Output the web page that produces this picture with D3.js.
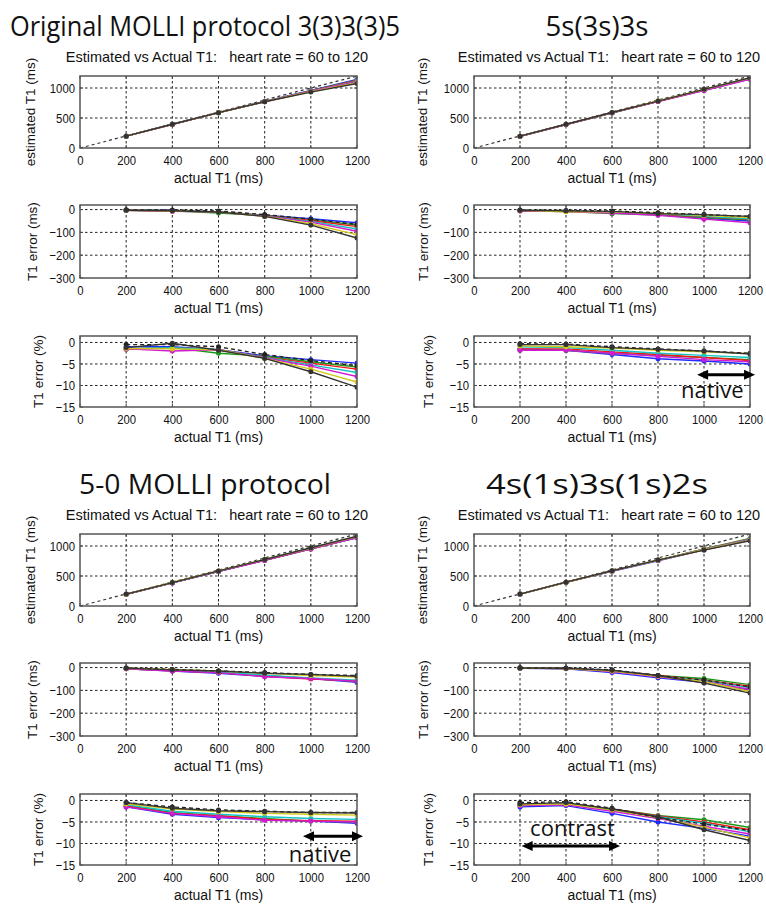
<!DOCTYPE html>
<html>
<head>
<meta charset="utf-8">
<script src="https://cdn.jsdelivr.net/npm/d3@7"></script>
<style>
  html, body { margin: 0; padding: 0; background: #fff; }
  svg { display: block; }
</style>
</head>
<body>
<div id="chart"></div>
<script>
// ---------------- DATA ----------------
const actualT1 = [200, 400, 600, 800, 1000, 1200];
const xTicks = [0, 200, 400, 600, 800, 1000, 1200];
const estTicks = [0, 500, 1000];
const errMsTicks = [-300, -200, -100, 0];
const errPctTicks = [-15, -10, -5, 0];
const panelTitles = ["Original MOLLI protocol 3(3)3(3)5", "5s(3s)3s", "5-0 MOLLI protocol", "4s(1s)3s(1s)2s"];
const subTitle = "Estimated vs Actual T1:   heart rate = 60 to 120";
const heartRates = [60, 70, 80, 90, 100, 110, 120];
// series order: blue, green, red, cyan, magenta, yellow, black
const seriesColors = ["#1f2bff", "#1a9a1a", "#f01818", "#12c4c4", "#d21ad2", "#d2c81a", "#333333"];
// extra dashed black series (error plots)
const dashedColor = "#222222";

// Panel A: Original MOLLI 3(3)3(3)5
const molliEst = [
  [198, 396, 590, 775, 960, 1142],
  [197, 395, 585, 774, 955, 1132],
  [197, 395, 590, 773, 952, 1125],
  [197, 395, 590, 772, 948, 1115],
  [197, 392, 590, 771, 945, 1105],
  [197, 394, 590, 770, 938, 1090],
  [197, 395, 589, 770, 932, 1075]
];
const molliErrMs = [
  [-2, -4, -10, -25, -40, -58],
  [-3, -5, -15, -26, -45, -68],
  [-3, -5, -10, -27, -48, -75],
  [-3, -5, -10, -28, -52, -85],
  [-3, -8, -10, -29, -55, -95],
  [-3, -6, -10, -30, -62, -110],
  [-3, -5, -11, -30, -68, -125]
];
const molliErrMsDash = [-1, -2, -6, -22, -42, -65];
const molliErrPct = [
  [-1.0, -1.0, -1.7, -3.1, -4.0, -4.8],
  [-1.5, -1.2, -2.5, -3.2, -4.5, -5.7],
  [-1.6, -1.2, -1.7, -3.4, -4.8, -6.2],
  [-1.5, -1.2, -1.7, -3.5, -5.2, -7.0],
  [-1.5, -2.0, -1.7, -3.6, -5.5, -7.9],
  [-1.4, -1.5, -1.7, -3.7, -6.2, -9.2],
  [-1.2, -0.2, -1.8, -3.7, -6.8, -10.4]
];
const molliErrPctDash = [-0.5, -0.5, -1.0, -2.8, -4.2, -5.4];

// Panel B: 5s(3s)3s
const s533Est = [
  [196, 392, 588, 778, 962, 1150],
  [195, 391, 582, 776, 965, 1155],
  [194, 392, 588, 780, 968, 1158],
  [196, 393, 588, 782, 970, 1160],
  [195, 391, 585, 775, 958, 1145],
  [197, 394, 590, 784, 975, 1165],
  [197, 395, 592, 782, 978, 1170]
];
const s533ErrMs = [
  [-4, -8, -12, -22, -38, -50],
  [-5, -9, -18, -24, -35, -45],
  [-6, -8, -12, -20, -32, -42],
  [-4, -7, -12, -18, -30, -40],
  [-5, -9, -15, -25, -42, -58],
  [-3, -10, -10, -16, -25, -35],
  [-3, -5, -8, -18, -22, -30]
];
const s533ErrMsDash = [-2, -4, -6, -14, -22, -30];
const s533ErrPct = [
  [-1.5, -1.8, -2.8, -3.8, -4.3, -5.0],
  [-1.8, -1.8, -2.5, -3.0, -3.5, -4.0],
  [-1.5, -1.5, -2.2, -2.8, -3.5, -4.2],
  [-1.0, -1.2, -1.8, -2.5, -3.0, -3.5],
  [-1.8, -1.8, -2.5, -3.2, -4.0, -4.5],
  [-0.8, -1.0, -1.3, -1.8, -2.2, -2.6],
  [-0.5, -0.5, -1.2, -1.6, -2.0, -2.7]
];
const s533ErrPctDash = [-0.3, -0.4, -1.0, -1.5, -2.0, -2.5];

// Panel C: 5-0 MOLLI
const m50Est = [
  [195, 385, 575, 762, 952, 1135],
  [196, 388, 578, 765, 952, 1140],
  [195, 386, 578, 762, 950, 1142],
  [196, 388, 580, 767, 955, 1145],
  [195, 385, 578, 760, 952, 1140],
  [197, 392, 585, 775, 965, 1158],
  [198, 390, 585, 775, 970, 1162]
];
const m50ErrMs = [
  [-5, -15, -25, -38, -48, -65],
  [-4, -12, -22, -35, -48, -60],
  [-5, -14, -22, -38, -50, -58],
  [-4, -12, -20, -33, -45, -55],
  [-5, -15, -22, -40, -48, -60],
  [-3, -8, -15, -25, -35, -42],
  [-2, -10, -15, -25, -30, -38]
];
const m50ErrMsDash = [-2, -8, -15, -22, -30, -35];
const m50ErrPct = [
  [-1.5, -3.2, -4.0, -4.5, -4.8, -5.3],
  [-1.2, -2.8, -3.6, -4.2, -4.8, -5.0],
  [-1.3, -3.0, -3.5, -4.4, -4.7, -4.8],
  [-1.0, -2.5, -3.2, -3.8, -4.2, -4.4],
  [-1.5, -3.0, -3.8, -4.6, -4.8, -5.0],
  [-0.8, -2.0, -2.6, -3.0, -3.2, -3.4],
  [-0.5, -1.8, -2.4, -2.6, -2.8, -2.9]
];
const m50ErrPctDash = [-0.5, -1.5, -2.2, -2.5, -2.8, -2.8];

// Panel D: 4s(1s)3s(1s)2s
const s41Est = [
  [197, 395, 578, 755, 935, 1100],
  [198, 396, 585, 765, 952, 1125],
  [198, 396, 585, 765, 945, 1118],
  [198, 396, 585, 762, 942, 1112],
  [198, 396, 582, 760, 938, 1105],
  [198, 396, 585, 762, 938, 1095],
  [198, 397, 588, 765, 932, 1088]
];
const s41ErrMs = [
  [-3, -5, -22, -45, -65, -100],
  [-2, -4, -15, -35, -48, -75],
  [-2, -4, -15, -35, -55, -82],
  [-2, -4, -15, -38, -58, -88],
  [-2, -4, -18, -40, -62, -95],
  [-2, -4, -15, -38, -62, -105],
  [-2, -3, -12, -35, -68, -112]
];
const s41ErrMsDash = [-1, -2, -10, -35, -55, -85];
const s41ErrPct = [
  [-1.5, -1.2, -3.0, -5.0, -6.5, -8.3],
  [-1.0, -0.8, -2.0, -3.5, -4.5, -6.3],
  [-1.0, -0.8, -2.0, -3.6, -5.0, -6.8],
  [-1.0, -0.8, -2.2, -3.8, -5.3, -7.3],
  [-1.2, -1.0, -2.5, -4.2, -6.0, -7.8],
  [-1.0, -0.8, -2.2, -4.0, -6.2, -8.7],
  [-0.8, -0.5, -2.0, -3.8, -6.8, -9.3]
];
const s41ErrPctDash = [-0.5, -0.3, -1.8, -4.0, -5.5, -7.0];

// ---------------- LAYOUT ----------------
const W = 766, H = 904;
const svg = d3.select("#chart").append("svg").attr("width", W).attr("height", H)
  .style("font-family", "'Liberation Sans', Arial, sans-serif");

const cols = [{x0: 80, x1: 357, titleX: 205, subX: 217, yl: [-50, -48, -42]},
              {x0: 474, x1: 750, titleX: 597, subX: 609, yl: [-52, -51, -46]}];
const rowOff = [0, 458];
const plotRows = [
  {y0: 76, y1: 148, domain: [0, 1200], ticks: estTicks, label: "estimated T1 (ms)"},
  {y0: 205, y1: 278, domain: [-300, 20], ticks: errMsTicks, label: "T1 error (ms)"},
  {y0: 336, y1: 407, domain: [-15, 1.5], ticks: errPctTicks, label: "T1 error (%)"}
];

const panels = [
  {title: panelTitles[0], col: 0, row: 0, titleW: 390, data: [molliEst, molliErrMs, molliErrPct], dash: [null, molliErrMsDash, molliErrPctDash], anno: null},
  {title: panelTitles[1], col: 1, row: 0, titleW: 103, data: [s533Est, s533ErrMs, s533ErrPct], dash: [null, s533ErrMsDash, s533ErrPctDash],
    anno: {text: "native", x1: 970, x2: 1222, y: -7.5, tx: 1036, ty: -13}},
  {title: panelTitles[2], col: 0, row: 1, titleW: 252, data: [m50Est, m50ErrMs, m50ErrPct], dash: [null, m50ErrMsDash, m50ErrPctDash],
    anno: {text: "native", x1: 966, x2: 1226, y: -8.3, tx: 1040, ty: -14.3}},
  {title: panelTitles[3], col: 1, row: 1, titleW: 222, data: [s41Est, s41ErrMs, s41ErrPct], dash: [null, s41ErrMsDash, s41ErrPctDash],
    anno: {text: "contrast", x1: 207, x2: 635, y: -10.6, tx: 428, ty: -8.3}}
];

const defs = svg.append("defs");
const fmt = d3.format("d");

panels.forEach((p, pi) => {
  const c = cols[p.col];
  const off = rowOff[p.row];
  const g = svg.append("g");

  // Title
  g.append("text")
    .attr("x", c.titleX).attr("y", off + 36)
    .attr("text-anchor", "middle")
    .attr("textLength", p.titleW).attr("lengthAdjust", "spacingAndGlyphs")
    .style("font-family", "'Open Sans', 'Noto Sans', sans-serif")
    .style("font-size", "27.5px").style("fill", "#111")
    .text(p.title);

  // Subtitle
  g.append("text")
    .attr("x", c.subX).attr("y", off + 62)
    .attr("text-anchor", "middle")
    .style("font-size", "14.5px").style("fill", "#111")
    .attr("xml:space", "preserve")
    .text(subTitle);

  const x = d3.scaleLinear().domain([0, 1200]).range([c.x0, c.x1]);

  plotRows.forEach((r, ri) => {
    const y = d3.scaleLinear().domain(r.domain).range([off + r.y1, off + r.y0]);
    const pg = g.append("g");
    const clipId = "clip" + pi + "_" + ri;
    defs.append("clipPath").attr("id", clipId).append("rect")
      .attr("x", c.x0).attr("y", off + r.y0).attr("width", c.x1 - c.x0).attr("height", r.y1 - r.y0);

    // grid
    const grid = pg.append("g").attr("stroke", "#222").attr("stroke-width", 1).attr("stroke-dasharray", "2.5,2.5");
    xTicks.filter(t => t > 0 && t < 1200).forEach(t => {
      grid.append("line").attr("x1", x(t)).attr("x2", x(t)).attr("y1", off + r.y0).attr("y2", off + r.y1);
    });
    r.ticks.filter(t => t > r.domain[0] && t < r.domain[1]).forEach(t => {
      grid.append("line").attr("x1", c.x0).attr("x2", c.x1).attr("y1", y(t)).attr("y2", y(t));
    });

    // axes tick labels via d3 axes
    const xAxis = d3.axisBottom(x).tickValues(xTicks).tickFormat(fmt).tickSize(0).tickPadding(7);
    const xa = pg.append("g").attr("transform", `translate(0,${off + r.y1})`).call(xAxis);
    xa.select(".domain").remove();
    xa.selectAll("text").style("font-size", "13.5px").style("fill", "#111")
      .attr("transform", "scale(0.84,1)");

    const yAxis = d3.axisLeft(y).tickValues(r.ticks).tickFormat(fmt).tickSize(0).tickPadding(5);
    const ya = pg.append("g").attr("transform", `translate(${c.x0},0)`).call(yAxis);
    ya.select(".domain").remove();
    ya.selectAll("text").style("font-size", "13.5px").style("fill", "#111")
      .attr("x", -5 / 0.84)
      .attr("transform", "scale(0.84,1)");

    // inner tick marks
    const tk = pg.append("g").attr("stroke", "#444").attr("stroke-width", 1);
    xTicks.forEach(t => {
      tk.append("line").attr("x1", x(t)).attr("x2", x(t)).attr("y1", off + r.y1).attr("y2", off + r.y1 - 3);
      tk.append("line").attr("x1", x(t)).attr("x2", x(t)).attr("y1", off + r.y0).attr("y2", off + r.y0 + 3);
    });
    r.ticks.forEach(t => {
      tk.append("line").attr("x1", c.x0).attr("x2", c.x0 + 3).attr("y1", y(t)).attr("y2", y(t));
      tk.append("line").attr("x1", c.x1).attr("x2", c.x1 - 3).attr("y1", y(t)).attr("y2", y(t));
    });

    // x label
    pg.append("text").attr("x", (c.x0 + c.x1) / 2).attr("y", off + r.y1 + 35)
      .attr("text-anchor", "middle").style("font-size", "14px").style("fill", "#111")
      .text("actual T1 (ms)");
    // y label
    const ylx = c.x0 + c.yl[ri], yly = off + (r.y0 + r.y1) / 2;
    pg.append("text").attr("transform", `translate(${ylx},${yly}) rotate(-90)`)
      .attr("text-anchor", "middle").attr("dominant-baseline", "central")
      .style("font-size", "13.5px").style("fill", "#111")
      .text(r.label);

    const plotG = pg.append("g").attr("clip-path", `url(#${clipId})`);
    const line = d3.line().x((d, i) => x(actualT1[i])).y(d => y(d));

    // identity line in estimated plot
    if (ri === 0) {
      plotG.append("path").datum([0, 1200])
        .attr("d", d3.line().x(d => x(d)).y(d => y(d)))
        .attr("fill", "none").attr("stroke", "#333").attr("stroke-width", 1.2)
        .attr("stroke-dasharray", "3,3");
    }

    const seriesSet = p.data[ri];
    const drawSeries = (vals, color, dashed) => {
      plotG.append("path").datum(vals).attr("d", line)
        .attr("fill", "none").attr("stroke", color).attr("stroke-width", 1.4)
        .attr("stroke-dasharray", dashed ? "4,3" : null);
      plotG.selectAll(null).data(vals).enter().append("circle")
        .attr("cx", (d, i) => x(actualT1[i])).attr("cy", d => y(d))
        .attr("r", 2.5).attr("fill", color);
    };
    seriesSet.forEach((vals, si) => {
      if (si === seriesSet.length - 1 && p.dash[ri]) drawSeries(p.dash[ri], dashedColor, true);
      drawSeries(vals, seriesColors[si], false);
    });

    // box
    pg.append("rect").attr("x", c.x0).attr("y", off + r.y0)
      .attr("width", c.x1 - c.x0).attr("height", r.y1 - r.y0)
      .attr("fill", "none").attr("stroke", "#555").attr("stroke-width", 1.5);

    // annotation
    if (ri === 2 && p.anno) {
      const a = p.anno;
      const ay = y(a.y);
      const ag = g.append("g");
      const xa1 = x(a.x1), xa2 = x(a.x2);
      const hl = 11, hw = 5;
      ag.append("line").attr("x1", xa1 + hl - 1).attr("x2", xa2 - hl + 1).attr("y1", ay).attr("y2", ay)
        .attr("stroke", "#000").attr("stroke-width", 3);
      ag.append("path").attr("d", `M${xa1},${ay} L${xa1 + hl},${ay - hw} L${xa1 + hl},${ay + hw} Z`).attr("fill", "#000");
      ag.append("path").attr("d", `M${xa2},${ay} L${xa2 - hl},${ay - hw} L${xa2 - hl},${ay + hw} Z`).attr("fill", "#000");
      ag.append("text").attr("x", x(a.tx)).attr("y", y(a.ty))
        .attr("text-anchor", "middle")
        .style("font-family", "'Open Sans', 'Noto Sans', sans-serif")
        .style("font-size", "22px").style("fill", "#111")
        .text(a.text);
    }
  });
});
</script>
</body>
</html>
